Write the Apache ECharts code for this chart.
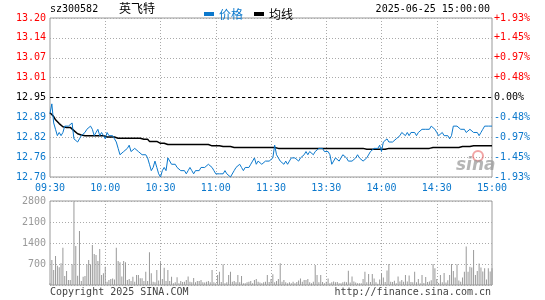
<!DOCTYPE html>
<html>
<head>
<meta charset="utf-8">
<script src="https://cdn.jsdelivr.net/npm/echarts@6/dist/echarts.min.js"></script>
<style>
html,body{margin:0;padding:0;background:#fff;}
#c{width:545px;height:300px;}
</style>
</head>
<body>
<div id="c"></div>
<script>
// ---------- data ----------
var stockCode = 'sz300582';
var stockName = '英飞特';
var dateText = '2025-06-25 15:00:00';
var prevClose = 12.95;
var priceTicks = ['12.70','12.76','12.82','12.89','12.95','13.01','13.07','13.14','13.20'];
var pctTicks = ['-1.93%','-1.45%','-0.97%','-0.48%','0.00%','+0.48%','+0.97%','+1.45%','+1.93%'];
var volTicks = ['','700','1400','2100','2800'];
var xTickLabels = ['09:30','10:00','10:30','11:00','11:30','13:30','14:00','14:30','15:00'];

var price = [
12.90,12.93,12.87,12.85,12.83,12.84,12.83,12.84,12.86,12.86,
12.86,12.86,12.87,12.82,12.82,12.81,12.82,12.83,12.83,12.84,
12.85,12.85,12.86,12.85,12.83,12.84,12.85,12.83,12.84,12.83,
12.82,12.84,12.83,12.83,12.83,12.82,12.81,12.79,12.77,12.77,
12.78,12.78,12.79,12.80,12.78,12.78,12.79,12.79,12.78,12.78,
12.77,12.77,12.77,12.76,12.74,12.72,12.73,12.75,12.73,12.71,
12.70,12.72,12.73,12.72,12.76,12.76,12.74,12.74,12.74,12.73,
12.73,12.72,12.72,12.72,12.71,12.72,12.73,12.72,12.71,12.72,
12.72,12.72,12.73,12.73,12.73,12.73,12.74,12.74,12.73,12.72,
12.71,12.71,12.71,12.71,12.71,12.72,12.71,12.71,12.70,12.70,
12.72,12.73,12.73,12.74,12.73,12.72,12.73,12.73,12.73,12.74,
12.75,12.76,12.74,12.75,12.75,12.74,12.74,12.75,12.75,12.75,12.75,
12.76,12.80,12.77,12.76,12.75,12.75,12.74,12.75,12.74,12.75,
12.76,12.76,12.76,12.76,12.75,12.76,12.76,12.77,12.78,12.77,
12.78,12.78,12.77,12.78,12.78,12.79,12.79,12.79,12.78,12.78,
12.78,12.77,12.74,12.75,12.76,12.76,12.75,12.76,12.77,12.77,
12.76,12.75,12.75,12.75,12.75,12.76,12.77,12.76,12.76,12.75,
12.75,12.76,12.76,12.78,12.78,12.79,12.79,12.79,12.80,12.78,
12.81,12.81,12.82,12.81,12.81,12.81,12.81,12.82,12.82,12.83,
12.84,12.84,12.83,12.84,12.83,12.84,12.84,12.84,12.83,12.84,
12.84,12.85,12.85,12.85,12.85,12.85,12.86,12.86,12.85,12.84,
12.83,12.83,12.84,12.83,12.83,12.83,12.82,12.83,12.86,12.86,
12.86,12.86,12.85,12.85,12.85,12.84,12.84,12.85,12.85,12.84,
12.84,12.84,12.83,12.84,12.85,12.86,12.86,12.86,12.86,12.86
];

var avgPrice = [
12.902,12.900,12.890,12.880,12.875,12.868,12.862,12.858,12.856,12.856,
12.856,12.856,12.855,12.846,12.840,12.836,12.834,12.832,12.830,12.830,
12.830,12.830,12.830,12.830,12.830,12.830,12.830,12.830,12.830,12.830,
12.826,12.826,12.826,12.826,12.826,12.826,12.826,12.822,12.822,12.822,
12.822,12.822,12.822,12.822,12.822,12.822,12.822,12.822,12.822,12.822,
12.819,12.819,12.819,12.819,12.812,12.812,12.812,12.812,12.812,12.809,
12.806,12.806,12.806,12.806,12.802,12.802,12.802,12.802,12.802,12.802,
12.802,12.802,12.802,12.802,12.802,12.802,12.802,12.802,12.802,12.802,
12.802,12.802,12.802,12.802,12.802,12.802,12.802,12.802,12.798,12.798,
12.798,12.798,12.798,12.796,12.796,12.796,12.796,12.796,12.796,12.793,
12.793,12.793,12.793,12.793,12.793,12.793,12.793,12.793,12.793,12.793,
12.793,12.793,12.793,12.793,12.793,12.793,12.793,12.793,12.793,12.793,12.793,
12.793,12.793,12.793,12.790,12.790,12.790,12.790,12.790,12.790,12.790,
12.790,12.790,12.790,12.790,12.790,12.790,12.790,12.790,12.790,12.790,
12.790,12.790,12.790,12.790,12.790,12.790,12.790,12.790,12.790,12.790,
12.790,12.790,12.790,12.790,12.790,12.790,12.790,12.790,12.790,12.790,
12.790,12.790,12.790,12.790,12.790,12.790,12.790,12.790,12.790,12.790,
12.787,12.787,12.787,12.787,12.787,12.787,12.787,12.787,12.787,12.787,
12.787,12.787,12.790,12.790,12.790,12.790,12.790,12.790,12.790,12.790,
12.790,12.790,12.790,12.790,12.790,12.790,12.790,12.790,12.790,12.790,
12.790,12.790,12.790,12.790,12.790,12.790,12.790,12.793,12.793,12.793,
12.793,12.793,12.793,12.793,12.793,12.793,12.793,12.793,12.793,12.793,
12.793,12.793,12.796,12.796,12.796,12.796,12.796,12.796,12.796,12.798,
12.798,12.798,12.798,12.798,12.798,12.798,12.798,12.798,12.798,12.798
];

var volume = [
60,833,500,967,644,590,722,1244,300,467,
167,167,689,2780,1300,311,1800,133,278,300,
689,833,689,1333,1033,1000,800,1200,333,390,
610,110,167,200,220,180,1244,800,756,280,
800,756,167,200,133,278,110,333,333,222,
222,133,444,130,1090,389,110,90,500,150,
756,200,578,133,500,133,278,55,90,256,
60,133,100,110,170,280,110,90,230,90,
130,130,170,90,80,110,130,90,500,90,
60,330,440,100,690,60,90,330,440,110,
130,90,330,90,300,60,60,90,110,130,
60,170,200,110,80,60,90,110,330,100,200,
356,90,130,200,722,110,170,90,60,90,
60,110,60,100,150,220,110,170,170,200,
90,60,110,667,330,90,330,100,60,110,
220,60,90,120,90,100,60,60,90,110,
90,477,80,280,120,80,60,60,60,200,
440,90,367,100,367,220,90,40,180,390,
250,100,480,700,110,100,140,60,280,120,
170,110,330,120,320,100,90,440,90,200,
60,330,70,270,100,120,160,700,555,200,
70,330,90,400,80,160,330,700,470,250,
690,150,110,250,440,1280,440,610,580,1170,
330,470,720,580,450,555,180,560,450,560
];

// minute categories 09:30-11:30, 13:01-15:00
var times = [];
(function(){
  function pad(n){return (n<10?'0':'')+n;}
  for (var m = 9*60+30; m <= 11*60+30; m++) times.push(pad(Math.floor(m/60))+':'+pad(m%60));
  for (var m2 = 13*60+1; m2 <= 15*60; m2++) times.push(pad(Math.floor(m2/60))+':'+pad(m2%60));
})();

// ---------- style ----------
var BLUE = '#0b78cc';
var RED = '#ff0000';
var GRID_C = '#aaaaaa';
var BORDER_C = '#999999';
var MONO = 'DejaVu Sans Mono';
var CJK = 'Noto Sans CJK SC';

function mono(color){ return {color: color, fontFamily: MONO, fontSize: 10}; }

var chart = echarts.init(document.getElementById('c'), null, {renderer: 'canvas'});
var option = {
  animation: false,
  backgroundColor: '#fff',
  legend: {
    left: 199, top: 3,
    itemWidth: 10, itemHeight: 4, itemGap: 11,
    icon: 'rect',
    textStyle: {fontFamily: CJK, fontSize: 12},
    data: [
      {name: '价格', textStyle: {color: BLUE}},
      {name: '均线', textStyle: {color: '#000'}}
    ]
  },
  grid: [
    {left: 50, right: 53, top: 18, height: 159, show: true, borderColor: BORDER_C, borderWidth: 1, backgroundColor: 'transparent'},
    {left: 50, right: 53, top: 201, height: 84, show: true, borderColor: BORDER_C, borderWidth: 1, backgroundColor: 'transparent'}
  ],
  xAxis: [
    {
      type: 'category', gridIndex: 0, data: times, boundaryGap: false,
      axisLine: {show: false}, axisTick: {show: false},
      axisLabel: {
        interval: function(i){ return i % 30 === 0; },
        formatter: function(v, i){ return xTickLabels[Math.round(i/30)]; },
        color: BLUE, fontFamily: MONO, fontSize: 10, margin: 6,
        showMinLabel: true, showMaxLabel: true
      },
      splitLine: {show: true, interval: function(i){ return i % 30 === 0 && i !== 0 && i !== 240; },
        lineStyle: {color: GRID_C, type: [1, 2], width: 1}}
    },
    {
      type: 'category', gridIndex: 1, data: times, boundaryGap: false,
      axisLine: {show: false}, axisTick: {show: false}, axisLabel: {show: false},
      splitLine: {show: true, interval: function(i){ return i % 30 === 0 && i !== 0 && i !== 240; },
        lineStyle: {color: GRID_C, type: [1, 2], width: 1}}
    }
  ],
  yAxis: [
    {
      type: 'value', gridIndex: 0, min: 12.70, max: 13.20, interval: 0.0625,
      axisLine: {show: false}, axisTick: {show: false},
      axisLabel: {
        margin: 4,
        formatter: function(v){
          var k = Math.round((v - 12.70) / 0.0625);
          var cls = k < 4 ? 'b' : (k === 4 ? 'k' : 'r');
          return '{' + cls + '|' + priceTicks[k] + '}';
        },
        rich: {b: mono(BLUE), k: mono('#000'), r: mono(RED)}
      },
      splitLine: {show: true, lineStyle: {color: GRID_C, type: [1, 2], width: 1}}
    },
    {
      type: 'value', gridIndex: 0, position: 'right', min: -1.93, max: 1.93, interval: 0.4825,
      axisLine: {show: false}, axisTick: {show: false},
      axisLabel: {
        margin: 2,
        formatter: function(v){
          var k = Math.round((v + 1.93) / 0.4825);
          var cls = k < 4 ? 'b' : (k === 4 ? 'k' : 'r');
          return '{' + cls + '|' + pctTicks[k] + '}';
        },
        rich: {b: mono(BLUE), k: mono('#000'), r: mono(RED)}
      },
      splitLine: {show: false}
    },
    {
      type: 'value', gridIndex: 1, min: 0, max: 2800, interval: 700,
      axisLine: {show: false}, axisTick: {show: false},
      axisLabel: {
        margin: 4, color: '#999', fontFamily: MONO, fontSize: 10,
        formatter: function(v){ return volTicks[Math.round(v / 700)]; }
      },
      splitLine: {show: true, lineStyle: {color: GRID_C, type: [1, 2], width: 1}}
    }
  ],
  series: [
    {
      name: '价格', type: 'line', xAxisIndex: 0, yAxisIndex: 0, data: price,
      symbol: 'none', smooth: false, itemStyle: {color: BLUE},
      lineStyle: {color: BLUE, width: 1},
      z: 4,
      markLine: {
        silent: true, symbol: 'none', label: {show: false},
        lineStyle: {color: '#000', type: [3, 3], width: 1},
        data: [{yAxis: prevClose}]
      }
    },
    {
      name: '均线', type: 'line', xAxisIndex: 0, yAxisIndex: 0, data: avgPrice,
      symbol: 'none', itemStyle: {color: '#000'},
      lineStyle: {color: '#000', width: 1.5}, z: 3
    },
    {
      name: 'vol', type: 'bar', xAxisIndex: 1, yAxisIndex: 2, data: volume,
      barWidth: 1, itemStyle: {color: '#999'}, z: 3
    }
  ],
  graphic: [
    {type: 'text', left: 50, top: 4, style: {text: stockCode, fill: '#000', font: '10px "DejaVu Sans Mono"'}},
    {type: 'text', left: 119, top: 2, style: {text: stockName, fill: '#000', font: '12px "Noto Sans CJK SC"'}},
    {type: 'text', right: 55, top: 4, style: {text: dateText, fill: '#000', font: '10px "DejaVu Sans Mono"'}},
    {type: 'text', left: 50, top: 287, style: {text: 'Copyright 2025 SINA.COM', fill: '#444', font: '10px "DejaVu Sans Mono"'}},
    {type: 'text', right: 54, top: 287, style: {text: 'http://finance.sina.com.cn', fill: '#444', font: '10px "DejaVu Sans Mono"'}},
    {type: 'circle', shape: {cx: 478, cy: 156, r: 5}, style: {fill: 'none', stroke: 'rgba(230,90,90,0.55)', lineWidth: 2}, z: 1},
    {type: 'text', left: 456, top: 157, style: {text: 'sina', fill: 'rgba(150,150,150,0.7)', font: 'italic bold 17px "DejaVu Sans"'}, z: 1}
  ]
};
chart.setOption(option);
</script>
</body>
</html>
